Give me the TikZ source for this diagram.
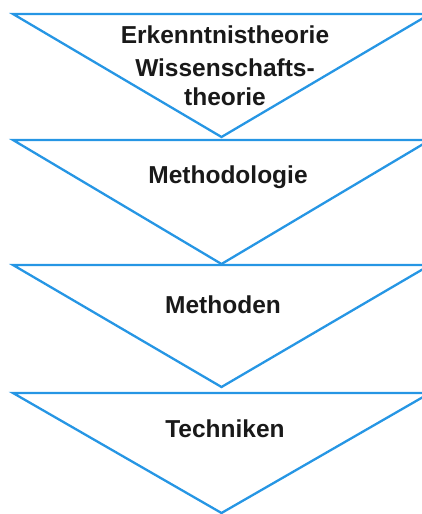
\documentclass[tikz,border=0pt]{standalone}
\usepackage{fontspec}
\setmainfont{Liberation Sans}
\definecolor{triblue}{RGB}{38,150,228}
\begin{document}
\begin{tikzpicture}[x=1pt,y=-1pt,
  tri/.style={draw=triblue,line width=2.3pt,line join=miter},
  lbl/.style={font=\fontsize{24.5}{31}\selectfont\bfseries,text=black!90,anchor=base,inner sep=0pt,align=center}]
\useasboundingbox (0,0) rectangle (422,514);
\clip (0,0) rectangle (422,514);
% triangles
\foreach \i/\t/\a in {1/14/137,2/140/264,3/265/387,4/393/513}{
  \coordinate (L\i) at (13,\t);
  \coordinate (R\i) at (430,\t);
  \coordinate (A\i) at (221.5,\a);
  \draw[tri] (L\i) -- (R\i) -- (A\i) -- cycle;
}
\node[lbl] (e1) at (225,43) {Erkenntnistheorie};
\node[lbl] (e2) at (225,76) {Wissenschafts-};
\node[lbl] (e3) at (225,105) {theorie};
\node[lbl] (m1) at (228,183) {Methodologie};
\node[lbl] (m2) at (223,313) {Methoden};
\node[lbl] (t1) at (225,437) {Techniken};
\end{tikzpicture}
\end{document}
